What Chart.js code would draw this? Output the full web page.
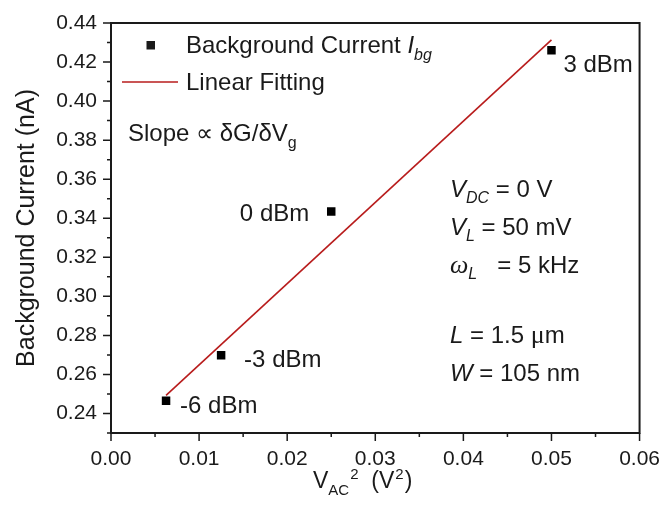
<!DOCTYPE html>
<html>
<head>
<meta charset="utf-8">
<script src="https://cdn.jsdelivr.net/npm/chart.js@4.4.0/dist/chart.umd.min.js"></script>
<style>
html, body { margin: 0; padding: 0; background: #fff; }
</style>
</head>
<body>
<canvas id="grafico" width="666" height="506"></canvas>
<script>
// medidas: corrente de fundo vs V_AC^2 para cada potencia RF
var potencias = ['-6 dBm', '-3 dBm', '0 dBm', '3 dBm'];
var vac2 = [0.00625, 0.0125, 0.025, 0.05];
var correnteFundo = [0.2465, 0.2698, 0.3435, 0.4261];

// extremos do ajuste linear
var ajusteX = [0.00625, 0.05];
var ajusteY = [0.2493, 0.4314];

// ticks principais
var ticksX = [0.00, 0.01, 0.02, 0.03, 0.04, 0.05, 0.06];
var ticksY = [0.24, 0.26, 0.28, 0.30, 0.32, 0.34, 0.36, 0.38, 0.40, 0.42, 0.44];

// deslocamento (px) dos rotulos em relacao ao ponto
var desvioRotulos = [[14, 12, 'left'], [23, 12, 'left'], [-22, 10, 'right'], [12, 22, 'left']];

var FONTE = '"Liberation Sans", Arial, sans-serif';
var SERIF = '"Liberation Serif", "Times New Roman", serif';
var COR_TEXTO = '#1a1a1a';
var VERMELHO = '#b81c1c';

Chart.defaults.font.family = FONTE;
Chart.defaults.color = COR_TEXTO;

function EscreveTexto(ctx, x, y, partes) {
    // partes: [texto, fonte, deslocamento vertical]
    partes.forEach(function (p) {
        ctx.font = p[1];
        ctx.fillText(p[0], x, y + (p[2] || 0));
        x += ctx.measureText(p[0]).width;
    });
    return x;
}

var pluginTextos = {
    id: 'textos',
    afterDraw: function (chart) {
        var ctx = chart.ctx;
        var area = chart.chartArea;
        var sx = chart.scales.x;
        var sy = chart.scales.y;
        ctx.save();

        // moldura
        ctx.strokeStyle = COR_TEXTO;
        ctx.lineWidth = 2;
        ctx.strokeRect(area.left, area.top, area.right - area.left, area.bottom - area.top);

        // ticks (principais e secundarios)
        ctx.lineWidth = 1.5;
        ctx.beginPath();
        ticksX.forEach(function (v, i) {
            var px = sx.getPixelForValue(v);
            ctx.moveTo(px, area.bottom);
            ctx.lineTo(px, area.bottom + 8);
            if (i < ticksX.length - 1) {
                var pm = sx.getPixelForValue(v + 0.005);
                ctx.moveTo(pm, area.bottom);
                ctx.lineTo(pm, area.bottom + 4);
            }
        });
        ticksY.forEach(function (v) {
            var py = sy.getPixelForValue(v);
            ctx.moveTo(area.left, py);
            ctx.lineTo(area.left - 8, py);
            var pm = sy.getPixelForValue(v - 0.01);
            ctx.moveTo(area.left, pm);
            ctx.lineTo(area.left - 4, pm);
        });
        ctx.stroke();

        ctx.fillStyle = COR_TEXTO;
        ctx.textBaseline = 'alphabetic';
        ctx.textAlign = 'left';

        // legenda
        ctx.fillRect(146.5, 41, 8.5, 8.5);
        EscreveTexto(ctx, 186, 53, [
            ['Background Current ', '24px ' + FONTE],
            ['I', 'italic 24px ' + FONTE],
            ['bg', 'italic 16px ' + FONTE, 7]
        ]);
        ctx.strokeStyle = VERMELHO;
        ctx.lineWidth = 1.5;
        ctx.beginPath();
        ctx.moveTo(122, 82);
        ctx.lineTo(178, 82);
        ctx.stroke();
        EscreveTexto(ctx, 186, 90, [['Linear Fitting', '24px ' + FONTE]]);

        EscreveTexto(ctx, 128, 141, [
            ['Slope \u221D \u03B4G/\u03B4V', '24px ' + FONTE],
            ['g', '16px ' + FONTE, 7]
        ]);

        // rotulos dos pontos
        var meta = chart.getDatasetMeta(0);
        potencias.forEach(function (t, i) {
            var pt = meta.data[i];
            var d = desvioRotulos[i];
            ctx.font = '24px ' + FONTE;
            ctx.textAlign = d[2];
            ctx.fillText(t, pt.x + d[0], pt.y + d[1]);
        });
        ctx.textAlign = 'left';

        // parametros
        var px0 = 450;
        EscreveTexto(ctx, px0, 197, [
            ['V', 'italic 24px ' + FONTE],
            ['DC', 'italic 16px ' + FONTE, 6],
            [' = 0 V', '24px ' + FONTE]
        ]);
        EscreveTexto(ctx, px0, 235, [
            ['V', 'italic 24px ' + FONTE],
            ['L', 'italic 16px ' + FONTE, 6],
            [' = 50 mV', '24px ' + FONTE]
        ]);
        EscreveTexto(ctx, px0, 273, [
            ['\u03C9', 'italic 26px ' + SERIF],
            ['L', 'italic 16px ' + FONTE, 6],
            ['   = 5 kHz', '24px ' + FONTE]
        ]);
        EscreveTexto(ctx, px0, 343, [
            ['L', 'italic 24px ' + FONTE],
            [' = 1.5 ', '24px ' + FONTE],
            ['\u03BC', '26px ' + SERIF],
            ['m', '24px ' + FONTE]
        ]);
        EscreveTexto(ctx, px0, 381, [
            ['W', 'italic 24px ' + FONTE],
            [' = 105 nm', '24px ' + FONTE]
        ]);

        // titulo do eixo x
        var xt = EscreveTexto(ctx, 313, 488, [
            ['V', '23px ' + FONTE],
            ['AC', '15px ' + FONTE, 7]
        ]);
        xt = EscreveTexto(ctx, xt + 1, 488, [['2', '15px ' + FONTE, -9]]);
        xt = EscreveTexto(ctx, xt, 488, [['  (V', '23px ' + FONTE]]);
        xt = EscreveTexto(ctx, xt + 1, 488, [['2', '15px ' + FONTE, -9]]);
        EscreveTexto(ctx, xt + 1, 488, [[')', '23px ' + FONTE]]);

        ctx.restore();
    }
};

var ctx = document.getElementById('grafico').getContext('2d');

var grafico = new Chart(ctx, {
    type: 'scatter',
    data: {
        datasets: [{
            label: 'Background Current',
            data: vac2.map(function (x, i) { return { x: x, y: correnteFundo[i] }; }),
            pointStyle: 'rect',
            pointRadius: 6,
            pointHoverRadius: 6,
            backgroundColor: '#000',
            borderWidth: 0,
            showLine: false,
            order: 0
        }, {
            label: 'Linear Fitting',
            type: 'line',
            data: ajusteX.map(function (x, i) { return { x: x, y: ajusteY[i] }; }),
            borderColor: VERMELHO,
            borderWidth: 1.6,
            pointRadius: 0,
            fill: false,
            showLine: true,
            order: 1
        }]
    },
    options: {
        responsive: false,
        animation: false,
        devicePixelRatio: 1,
        layout: { padding: { left: 0, top: 23, right: 23, bottom: 0 } },
        plugins: {
            legend: { display: false },
            tooltip: { enabled: false }
        },
        scales: {
            x: {
                type: 'linear',
                position: 'bottom',
                min: 0,
                max: 0.06,
                grid: { display: false, drawTicks: true, tickLength: 8 },
                border: { display: false },
                afterBuildTicks: function (s) { s.ticks = ticksX.map(function (v) { return { value: v }; }); },
                afterFit: function (s) { s.height = 73; },
                ticks: {
                    autoSkip: false,
                    maxRotation: 0,
                    padding: 6,
                    color: COR_TEXTO,
                    font: { size: 21 },
                    callback: function (v) { return v.toFixed(2); }
                }
            },
            y: {
                type: 'linear',
                min: 0.23,
                max: 0.44,
                grid: { display: false, drawTicks: true, tickLength: 8 },
                border: { display: false },
                afterBuildTicks: function (s) { s.ticks = ticksY.map(function (v) { return { value: v }; }); },
                afterFit: function (s) { s.width = 111; },
                ticks: {
                    autoSkip: false,
                    padding: 6,
                    color: COR_TEXTO,
                    font: { size: 21 },
                    callback: function (v) { return v.toFixed(2); }
                },
                title: {
                    display: true,
                    text: 'Background Current (nA)',
                    color: COR_TEXTO,
                    font: { size: 25 },
                    padding: { top: 12, bottom: 0 }
                }
            }
        }
    },
    plugins: [pluginTextos]
});
</script>
</body>
</html>
